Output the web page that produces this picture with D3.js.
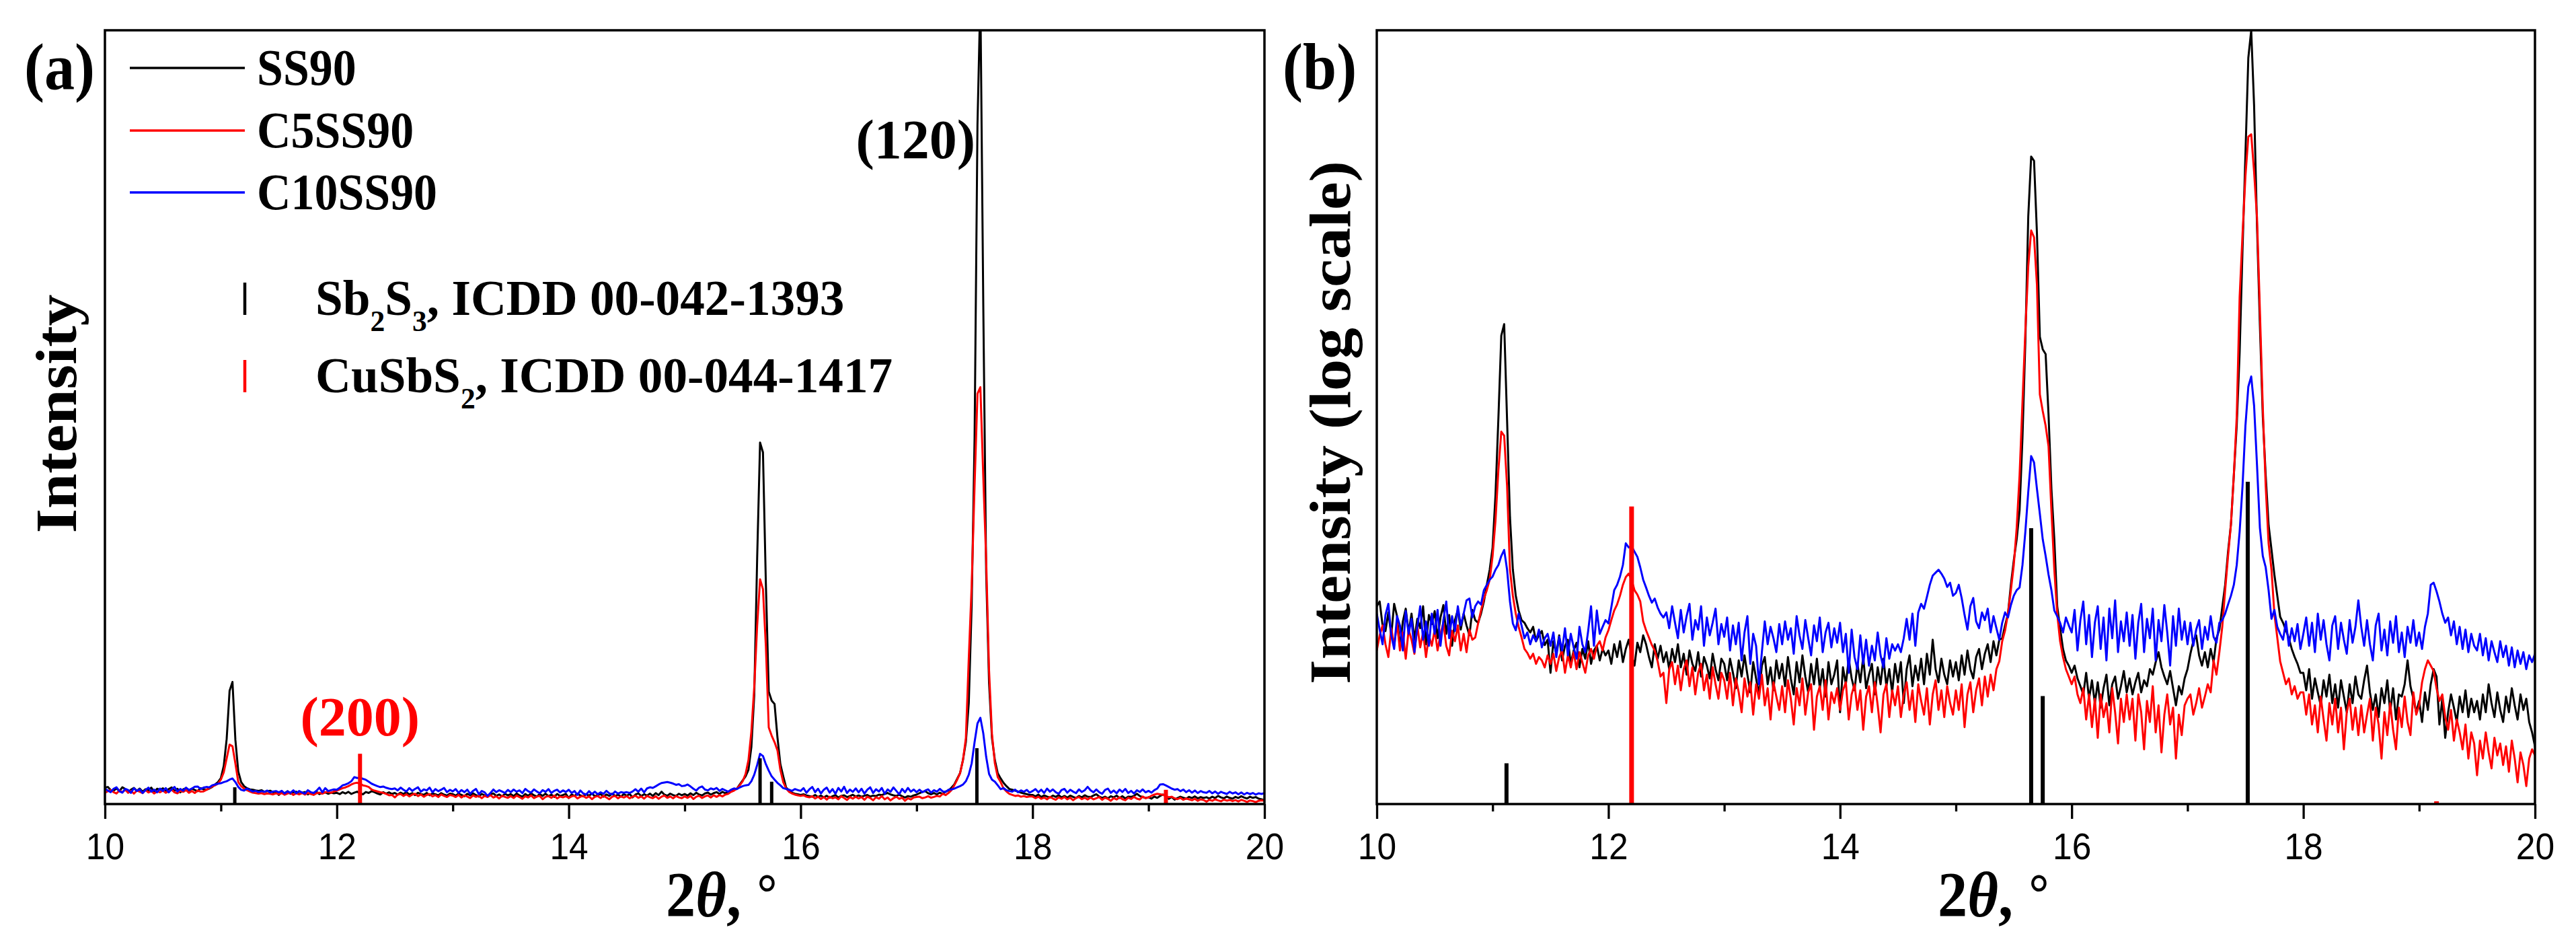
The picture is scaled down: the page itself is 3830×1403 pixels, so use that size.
<!DOCTYPE html>
<html>
<head>
<meta charset="utf-8">
<script src="https://cdn.jsdelivr.net/npm/d3@7"></script>
<style>
  body { margin: 0; background: #fff; }
</style>
</head>
<body>
<div id="chart"></div>
<script>
// scan: 10-20 deg, 0.025 deg step (401 points per pattern)
const twoThetaStart = 10;
const twoThetaStep = 0.025;

// intensities, same counts used for linear panel (a)
const ss90 = [
  262, 270, 232, 224, 252, 218, 266, 246, 202, 238, 258, 222, 250, 212, 242, 228, 262, 206, 248, 234, // 10.0
  254, 214, 244, 264, 220, 248, 204, 240, 256, 226, 250, 232, 218, 256, 240, 236, 250, 270, 300, 330, // 10.5
  380, 530, 860, 1450, 1560, 850, 460, 330, 280, 255, 240, 236, 228, 222, 230, 210, 218, 224, 205, 212, // 11.0
  172, 210, 194, 218, 186, 204, 212, 182, 198, 208, 178, 200, 188, 210, 182, 198, 204, 186, 200, 192, // 11.5
  198, 182, 206, 190, 210, 184, 200, 212, 192, 180, 208, 196, 218, 206, 190, 178, 206, 188, 204, 184, // 12.0
  196, 176, 200, 184, 206, 178, 194, 170, 198, 182, 174, 196, 168, 190, 180, 166, 194, 176, 164, 188, // 12.5
  182, 164, 188, 172, 156, 186, 168, 192, 170, 152, 184, 166, 150, 180, 190, 160, 178, 154, 186, 166, // 13.0
  182, 158, 190, 166, 150, 184, 162, 192, 168, 152, 182, 160, 188, 156, 176, 148, 184, 160, 170, 186, // 13.5
  134, 178, 160, 188, 166, 154, 182, 162, 190, 156, 170, 182, 150, 178, 160, 188, 158, 176, 152, 182, // 14.0
  162, 184, 142, 176, 192, 158, 180, 164, 188, 160, 194, 170, 212, 176, 162, 188, 170, 160, 186, 168, // 14.5
  184, 164, 192, 170, 198, 176, 166, 190, 200, 176, 194, 206, 184, 210, 192, 212, 214, 232, 250, 300, // 15.0
  350, 400, 480, 760, 1400, 3080, 4500, 4380, 2770, 1440, 1330, 1290, 880, 550, 400, 262, 228, 200, 186, 180, // 15.5
  172, 180, 166, 158, 150, 172, 146, 164, 142, 162, 138, 156, 170, 140, 160, 168, 146, 158, 174, 152, // 16.0
  166, 150, 162, 172, 152, 164, 158, 176, 170, 184, 196, 178, 168, 160, 174, 156, 140, 158, 150, 166, // 16.5
  176, 194, 210, 218, 192, 180, 196, 178, 200, 184, 214, 226, 260, 300, 370, 440, 601, 822, 1300, 2500, // 17.0
  4550, 8400, 10000, 6200, 2900, 1546, 870, 600, 438, 375, 320, 280, 245, 236, 225, 214, 200, 190, 182, 172, // 17.5
  172, 154, 176, 146, 166, 152, 140, 164, 148, 170, 142, 160, 138, 164, 148, 134, 160, 142, 168, 150, // 18.0
  146, 164, 180, 152, 136, 150, 130, 156, 142, 164, 134, 156, 128, 150, 148, 160, 186, 158, 146, 134, // 18.5
  144, 126, 152, 136, 160, 176, 168, 124, 146, 114, 134, 150, 138, 126, 148, 134, 154, 130, 146, 134, // 19.0
  144, 128, 150, 134, 160, 142, 130, 152, 136, 126, 148, 134, 156, 140, 128, 150, 136, 146, 126, 118, // 19.5
  108
];

const c5ss90 = [
  198, 218, 232, 206, 190, 228, 204, 236, 198, 222, 188, 226, 212, 194, 232, 202, 222, 190, 218, 204,
  226, 198, 220, 236, 204, 192, 224, 210, 232, 198, 220, 196, 226, 212, 215, 235, 255, 275, 290, 310,
  360, 450, 620, 790, 770, 560, 330, 280, 250, 230, 215, 200, 195, 188, 194, 182, 190, 186, 178, 192,
  182, 194, 174, 190, 198, 172, 192, 178, 196, 176, 196, 184, 172, 192, 200, 188, 204, 210, 198, 215,
  225, 240, 255, 265, 280, 300, 315, 322, 310, 290, 282, 270, 238, 225, 215, 205, 198, 185, 168, 172,
  142, 176, 184, 160, 180, 154, 176, 186, 158, 178, 150, 172, 182, 154, 170, 146, 178, 160, 146, 172,
  164, 146, 172, 140, 166, 152, 134, 166, 148, 162, 132, 160, 146, 170, 140, 156, 128, 162, 148, 136,
  158, 134, 164, 146, 124, 156, 140, 166, 132, 152, 160, 120, 148, 158, 136, 164, 128, 152, 142, 156,
  136, 154, 162, 128, 150, 160, 136, 154, 120, 148, 158, 134, 162, 140, 118, 150, 160, 130, 154, 140,
  158, 130, 150, 162, 136, 154, 126, 160, 144, 132, 156, 124, 150, 164, 136, 154, 130, 158, 142, 132,
  154, 136, 160, 122, 150, 162, 134, 154, 166, 140, 168, 148, 170, 154, 176, 185, 210, 225, 250, 290,
  340, 430, 600, 950, 1500, 2250, 2820, 2700, 2000, 1000, 900, 820, 720, 480, 330, 250, 210, 190, 176, 168,
  160, 168, 150, 142, 156, 128, 150, 122, 146, 114, 150, 130, 142, 118, 156, 134, 110, 146, 126, 150,
  128, 146, 112, 150, 134, 106, 144, 126, 158, 118, 140, 104, 132, 150, 124, 138, 100, 132, 116, 140,
  146, 150, 132, 142, 156, 138, 148, 160, 152, 186, 170, 196, 230, 290, 360, 440, 600, 870, 1850, 2750,
  3970, 5100, 5180, 4080, 3060, 1700, 920, 560, 390, 330, 250, 215, 185, 172, 160, 166, 150, 158, 146, 152,
  152, 132, 150, 124, 140, 118, 148, 128, 112, 142, 124, 146, 118, 138, 106, 134, 146, 120, 138, 116,
  140, 118, 132, 146, 112, 138, 124, 100, 134, 116, 142, 120, 106, 138, 122, 148, 126, 116, 152, 132,
  140, 162, 176, 186, 180, 174, 156, 144, 150, 130, 120, 136, 112, 128, 118, 106, 124, 100, 118, 110,
  90, 112, 100, 118, 104, 94, 114, 102, 110, 96, 108, 92, 112, 100, 86, 104, 96, 84, 100, 106,
  102
];

const c10ss90 = [
  250, 226, 206, 248, 266, 218, 200, 246, 232, 198, 254, 220, 242, 196, 230, 262, 212, 238, 204, 250,
  220, 256, 204, 240, 270, 214, 246, 224, 262, 232, 250, 272, 275, 244, 262, 270, 265, 290, 300, 310,
  316, 330, 340, 360, 374, 330, 270, 235, 225, 250, 232, 214, 222, 206, 218, 210, 226, 202, 214, 220,
  204, 222, 190, 216, 198, 228, 192, 220, 202, 188, 230, 206, 196, 224, 262, 204, 255, 220, 230, 240,
  235, 260, 290, 300, 316, 340, 390, 380, 383, 370, 358, 335, 310, 295, 280, 268, 275, 260, 250, 244,
  252, 228, 262, 236, 214, 256, 222, 246, 266, 212, 240, 226, 262, 204, 244, 218, 236, 258, 206, 234,
  216, 244, 198, 232, 206, 236, 186, 222, 246, 182, 220, 204, 160, 196, 238, 206, 230, 214, 196, 234,
  206, 238, 212, 228, 194, 246, 218, 200, 240, 214, 192, 232, 210, 244, 196, 222, 236, 202, 228, 208,
  236, 196, 220, 172, 226, 190, 176, 218, 182, 212, 180, 204, 186, 222, 192, 178, 214, 188, 206, 198,
  206, 196, 214, 242, 212, 250, 204, 252, 266, 258, 278, 300, 318, 324, 330, 322, 312, 296, 304, 280,
  285, 300, 276, 248, 226, 262, 276, 238, 228, 252, 240, 258, 222, 246, 228, 212, 236, 252, 244, 264,
  280, 290, 295, 340, 420, 540, 677, 650, 550, 470, 400, 360, 320, 290, 255, 246, 236, 222, 244, 232,
  222, 256, 198, 240, 270, 206, 248, 190, 236, 262, 200, 244, 186, 258, 214, 272, 196, 238, 210, 252,
  204, 248, 188, 236, 266, 196, 242, 214, 258, 186, 240, 210, 264, 222, 180, 246, 204, 258, 212, 238,
  206, 236, 204, 226, 240, 200, 230, 212, 246, 216, 208, 236, 240, 250, 265, 280, 300, 340, 420, 560,
  820, 1050, 1120, 930, 640, 430, 360, 335, 290, 242, 256, 230, 220, 212, 238, 204, 228, 210, 234, 200,
  220, 244, 204, 236, 196, 250, 212, 240, 206, 186, 232, 246, 200, 236, 212, 194, 240, 208, 230, 272,
  230, 204, 240, 206, 186, 232, 250, 198, 226, 192, 238, 208, 246, 196, 222, 190, 230, 208, 240, 204,
  222, 200, 230, 250, 300, 304, 288, 270, 250, 236, 244, 218, 238, 206, 230, 200, 226, 196, 220, 204,
  198, 220, 192, 214, 186, 210, 196, 184, 210, 190, 204, 180, 202, 178, 198, 182, 196, 176, 192, 184,
  194
];

const seriesNames = ["SS90", "C5SS90", "C10SS90"];
const seriesColors = ["#000000", "#ff0000", "#0000ff"];

// reference patterns (relative intensity, %)
const sb2s3Peaks = [11.12, 15.65, 15.75, 17.52];
const sb2s3Rel = [30, 82, 40, 100];
const cusbs2Peaks = [12.2, 19.15];
const cusbs2Rel = [90, 25.5];

const xTicks = [10, 12, 14, 16, 18, 20];
const xMinorTicks = [11, 13, 15, 17, 19];

const W = 3830, H = 1403;
const plotTop = 45, plotBottom = 1195;
const serif = "'Liberation Serif', 'Times New Roman', serif";
const sans = "'Liberation Sans', Arial, sans-serif";
const squeeze = 0.92;   // most glyphs in the figure are slightly narrow

const twoTheta = ss90.map((d, i) => twoThetaStart + i * twoThetaStep);
const allSeries = [ss90, c5ss90, c10ss90];
allSeries.forEach((s, k) => { if (s.length !== 401) console.warn(seriesNames[k], s.length); });

const svg = d3.select("#chart").append("svg")
    .attr("width", W)
    .attr("height", H)
    .style("background-color", "#fff");

function label(g, x, y, txt, o) {
    o = o || {};
    const sx = o.sx || squeeze;
    return g.append("text")
        .attr("transform", `translate(${x},${y}) scale(${sx},1)` + (o.rotate ? ` rotate(${o.rotate})` : ""))
        .attr("text-anchor", o.anchor || "start")
        .attr("font-family", o.family || serif)
        .attr("font-weight", o.weight || "bold")
        .attr("font-size", o.size)
        .attr("fill", o.fill || "#000")
        .text(txt);
}

function drawPanel(p) {
    const g = svg.append("g");
    const x = d3.scaleLinear().domain([10, 20]).range([p.left, p.right]);
    const y = p.y;

    svg.append("clipPath").attr("id", "clip-" + p.id)
        .append("rect")
        .attr("x", p.left).attr("y", plotTop)
        .attr("width", p.right - p.left).attr("height", plotBottom - plotTop);

    const line = d3.line()
        .x((d, i) => x(twoTheta[i]))
        .y(d => y(d));

    g.append("g")
        .attr("clip-path", `url(#clip-${p.id})`)
        .selectAll("path")
        .data(allSeries)
        .join("path")
            .attr("d", line)
            .attr("fill", "none")
            .attr("stroke", (d, i) => seriesColors[i])
            .attr("stroke-width", 3)
            .attr("stroke-linejoin", "round");

    // ICDD reference sticks
    const sticks = g.append("g");
    sticks.selectAll(".sb")
        .data(sb2s3Peaks)
        .join("line")
            .attr("class", "sb")
            .attr("x1", d => x(d)).attr("x2", d => x(d))
            .attr("y1", plotBottom)
            .attr("y2", (d, i) => p.stick(sb2s3Rel[i]))
            .attr("stroke", "#000")
            .attr("stroke-width", p.id === "a" ? 5 : 6);
    sticks.selectAll(".cu")
        .data(cusbs2Peaks)
        .join("line")
            .attr("class", "cu")
            .attr("x1", d => x(d)).attr("x2", d => x(d))
            .attr("y1", plotBottom)
            .attr("y2", (d, i) => p.stick(cusbs2Rel[i]))
            .attr("stroke", "#ff0000")
            .attr("stroke-width", p.id === "a" ? 6 : 7);

    // frame
    g.append("rect")
        .attr("x", p.left).attr("y", plotTop)
        .attr("width", p.right - p.left).attr("height", plotBottom - plotTop)
        .attr("fill", "none")
        .attr("stroke", "#000")
        .attr("stroke-width", 3.5);

    // bottom axis, major + minor ticks pointing out
    const ax = g.append("g")
        .attr("transform", `translate(0,${plotBottom})`)
        .call(d3.axisBottom(x).tickValues(xTicks).tickSize(22).tickSizeOuter(0).tickFormat(d3.format("d")));
    ax.select(".domain").remove();
    ax.selectAll(".tick line").attr("stroke-width", 3.3);
    ax.selectAll(".tick text")
        .attr("y", 82).attr("dy", 0)
        .attr("transform", `scale(${squeeze},1)`)
        .attr("font-family", sans)
        .attr("font-size", 56)
        .attr("fill", "#000");

    const minor = g.append("g")
        .attr("transform", `translate(0,${plotBottom})`)
        .call(d3.axisBottom(x).tickValues(xMinorTicks).tickSize(11).tickSizeOuter(0).tickFormat(""));
    minor.select(".domain").remove();
    minor.selectAll(".tick line").attr("stroke-width", 3.3);

    // x title: 2θ, °
    const xt = g.append("text")
        .attr("transform", `translate(${p.left + 834},1362) scale(${squeeze},1)`)
        .attr("font-family", serif)
        .attr("font-weight", "bold")
        .attr("font-size", 96);
    xt.append("tspan").text("2");
    xt.append("tspan").attr("font-style", "italic").text("θ");
    xt.append("tspan").text(", ");
    xt.append("tspan").attr("font-family", sans).attr("font-weight", "normal").attr("font-size", 88).text("°");

    // y title
    label(g, p.yTitleX, p.yTitleY, p.yTitle, { size: 94, anchor: "middle", rotate: -90 });

    // panel letter
    label(g, p.letterX, 132, p.letter, { size: 98 });

    return { g, x, y };
}

// (a) linear intensity
const panelA = drawPanel({
    id: "a", left: 156, right: 1880,
    y: d3.scaleLinear().domain([60, 9564]).range([plotBottom, plotTop]),
    stick: d3.scaleLinear().domain([0, 1385]).range([plotBottom, plotTop]),
    yTitle: "Intensity", yTitleX: 113, yTitleY: 615,
    letter: "(a)", letterX: 36
});

// (b) log intensity
drawPanel({
    id: "b", left: 2047, right: 3769,
    y: d3.scaleLog().domain([75, 10000]).range([plotBottom, plotTop]),
    stick: d3.scaleLog().domain([25.2, 690]).range([plotBottom, plotTop]),
    yTitle: "Intensity (log scale)", yTitleX: 2007, yTitleY: 628,
    letter: "(b)", letterX: 1907
});

// annotations in (a)
label(panelA.g, 1450, 235, "(120)", { size: 82, anchor: "end", sx: 1 });
label(panelA.g, panelA.x(12.2), 1093, "(200)", { size: 82, anchor: "middle", fill: "#ff0000", sx: 1 });

// legend in (a)
const legend = panelA.g.append("g");
const legendY = [101, 194, 286];
seriesNames.forEach((name, i) => {
    legend.append("line")
        .attr("x1", 193).attr("x2", 364)
        .attr("y1", legendY[i]).attr("y2", legendY[i])
        .attr("stroke", seriesColors[i])
        .attr("stroke-width", 3.5);
    label(legend, 382, legendY[i] + 25, name, { size: 76 });
});

function phaseEntry(yBase, color, parts) {
    legend.append("line")
        .attr("x1", 364).attr("x2", 364)
        .attr("y1", yBase - 48).attr("y2", yBase)
        .attr("stroke", color)
        .attr("stroke-width", 4.5);
    const t = label(legend, 469, yBase, "", { size: 74, sx: 0.99 });
    parts.forEach(pt => {
        t.append("tspan")
            .attr("font-size", pt.sub ? 44 : 74)
            .attr("dy", pt.dy)
            .text(pt.t);
    });
}
phaseEntry(468, "#000", [
    { t: "Sb", dy: 0 }, { t: "2", sub: true, dy: 24 }, { t: "S", dy: -24 },
    { t: "3", sub: true, dy: 24 }, { t: ", ICDD 00-042-1393", dy: -24 }
]);
phaseEntry(583, "#ff0000", [
    { t: "CuSbS", dy: 0 }, { t: "2", sub: true, dy: 24 }, { t: ", ICDD 00-044-1417", dy: -24 }
]);
</script>
</body>
</html>
